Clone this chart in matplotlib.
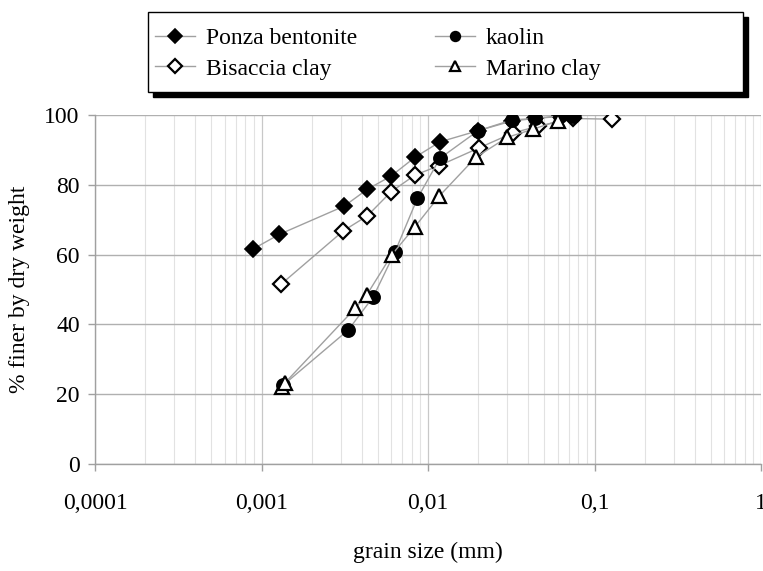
import matplotlib
matplotlib.use("Agg")
import matplotlib.pyplot as plt
from matplotlib.ticker import LogLocator, FixedLocator, FixedFormatter, NullFormatter
from matplotlib.patches import Rectangle

plt.rcParams['font.family'] = ['Liberation Serif', 'DejaVu Serif']

# ---- data ----
ponza_x = [0.00089, 0.00128, 0.00314, 0.00432, 0.0060, 0.00836, 0.0118, 0.020, 0.032, 0.044, 0.062, 0.0746]
ponza_y = [61.6, 65.8, 73.9, 78.7, 82.5, 87.9, 92.3, 95.5, 98.3, 99.0, 99.6, 99.8]

kaolin_x = [0.00135, 0.00332, 0.00469, 0.00634, 0.00863, 0.0118, 0.020, 0.032, 0.044, 0.062, 0.0746]
kaolin_y = [22.6, 38.4, 47.9, 60.8, 76.1, 87.6, 95.5, 98.6, 99.0, 99.8, 99.8]

bisaccia_x = [0.00131, 0.0031, 0.00432, 0.0060, 0.00836, 0.0117, 0.0203, 0.0325, 0.046, 0.0746, 0.127]
bisaccia_y = [51.5, 66.8, 71.1, 78.0, 82.8, 85.5, 90.6, 94.9, 96.8, 99.0, 98.8]

marino_x = [0.00133, 0.00138, 0.00365, 0.00428, 0.00605, 0.00836, 0.0117, 0.0194, 0.0299, 0.0426, 0.060]
marino_y = [22.1, 23.2, 44.6, 48.4, 59.9, 68.0, 76.8, 87.9, 93.6, 95.9, 98.3]

x_ticks = [0.0001, 0.001, 0.01, 0.1, 1]
x_tick_labels = ['0,0001', '0,001', '0,01', '0,1', '1']
y_ticks = [0, 20, 40, 60, 80, 100]

fig = plt.figure(figsize=(7.63, 5.71), dpi=100)
ax = fig.add_axes([95/763, 1-464/571, (761-95)/763, (464-115)/571])

ax.set_xscale('log')
ax.set_xlim(1e-4, 1)
ax.set_ylim(0, 100)

line_kw = dict(color='#a0a0a0', lw=1.0, zorder=3)
h1, = ax.plot(ponza_x, ponza_y, marker='D', ms=8, mfc='black', mec='black', mew=1.2, **line_kw)
h3, = ax.plot(bisaccia_x, bisaccia_y, marker='D', ms=8, mfc='white', mec='black', mew=1.6, **line_kw)
h2, = ax.plot(kaolin_x, kaolin_y, marker='o', ms=9.5, mfc='black', mec='black', mew=1.2, **line_kw)
h4, = ax.plot(marino_x, marino_y, marker='^', ms=9.5, mfc='white', mec='black', mew=1.6, **line_kw)

ax.xaxis.set_major_locator(FixedLocator(x_ticks))
ax.xaxis.set_major_formatter(FixedFormatter(x_tick_labels))
ax.xaxis.set_minor_locator(LogLocator(base=10, subs=range(2, 10), numticks=20))
ax.xaxis.set_minor_formatter(NullFormatter())
ax.set_yticks(y_ticks)

ax.grid(True, which='major', axis='y', color='#b0b0b0', lw=1.0, zorder=0)
ax.grid(True, which='major', axis='x', color='#c8c8c8', lw=0.9, zorder=0)
ax.grid(True, which='minor', axis='x', color='#e2e2e2', lw=0.8, zorder=0)

for s in ['top', 'right']:
    ax.spines[s].set_visible(False)
for s in ['left', 'bottom']:
    ax.spines[s].set_color('#a0a0a0')
    ax.spines[s].set_linewidth(1.0)

ax.tick_params(axis='both', which='major', labelsize=17, colors='#a0a0a0', labelcolor='black', length=5, width=1.0)
ax.tick_params(axis='x', which='minor', length=0)
ax.tick_params(axis='x', pad=16)
ax.tick_params(axis='y', pad=6)

ax.set_xlabel('grain size (mm)', fontsize=17, labelpad=20)
ax.set_ylabel('% finer by dry weight', fontsize=17, labelpad=10)

# legend with drop shadow
lx0, ly0, lw_, lh_ = 148/763, 1-92/571, (743-148)/763, (92-12)/571
fig.patches.append(Rectangle((lx0 + 5/763, ly0 - 5/571), lw_, lh_, transform=fig.transFigure,
                             facecolor='black', edgecolor='black', zorder=1))
fig.patches.append(Rectangle((lx0, ly0), lw_, lh_, transform=fig.transFigure,
                             facecolor='white', edgecolor='black', lw=1.0, zorder=2))
leg = fig.legend([h1, h3, h2, h4], ['Ponza bentonite', 'Bisaccia clay', 'kaolin', 'Marino clay'],
                 loc='center left', bbox_to_anchor=(155/763, 1-53.5/571), ncol=2, frameon=False,
                 fontsize=17, columnspacing=3.3, handlelength=1.7, handletextpad=0.45,
                 labelspacing=0.4, borderpad=0, borderaxespad=0)
for lh in leg.legend_handles:
    lh.set_markersize(7)
leg.set_zorder(3)

fig.savefig('out.png', dpi=100)
